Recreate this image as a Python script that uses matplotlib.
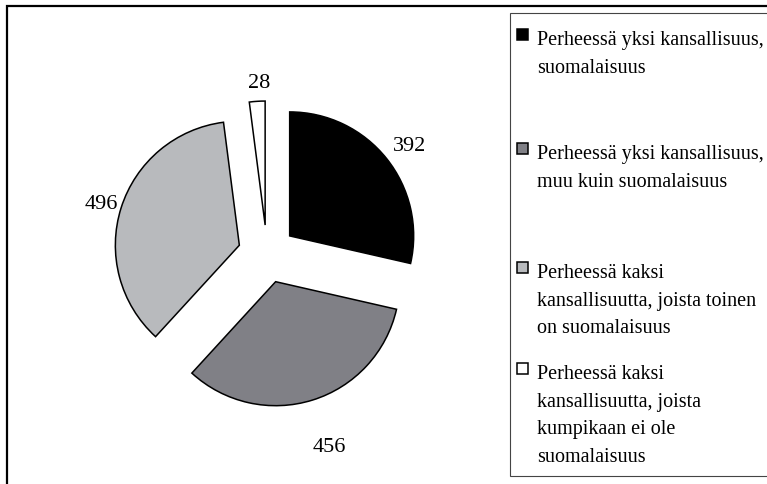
import numpy as np
import matplotlib.pyplot as plt
from matplotlib.patches import Rectangle

# data
values = [392, 456, 496, 28]
colors = ["#000000", "#808086", "#b8babd", "#ffffff"]
legend_labels = [
    "Perheessä yksi kansallisuus,\nsuomalaisuus",
    "Perheessä yksi kansallisuus,\nmuu kuin suomalaisuus",
    "Perheessä kaksi\nkansallisuutta, joista toinen\non suomalaisuus",
    "Perheessä kaksi\nkansallisuutta, joista\nkumpikaan ei ole\nsuomalaisuus",
]
label_dist = [1.21, 1.37, 1.19, 1.18]

plt.rcParams["font.family"] = ["Liberation Serif", "DejaVu Serif"]

W, H = 767, 484
fig = plt.figure(figsize=(W / 100, H / 100), dpi=100)
ax = fig.add_axes([0, 0, 1, 1])

cx, cy, r = 267, H - 254, 124
expl = 29  # pie explode is in data units here

wedges, _ = ax.pie(values, colors=colors, startangle=90, counterclock=False,
                   explode=[expl] * len(values), center=(cx, cy), radius=r,
                   wedgeprops=dict(edgecolor="black", linewidth=1.1),
                   frame=True)
ax.set_xlim(0, W)
ax.set_ylim(0, H)
ax.set_aspect("equal")
ax.axis("off")

# value labels
for w, v, d in zip(wedges, values, label_dist):
    ang = np.deg2rad((w.theta1 + w.theta2) / 2)
    x = cx + (expl + d * r) * np.cos(ang)
    y = cy + (expl + d * r) * np.sin(ang)
    ax.text(x + 3, y - 4, str(v), ha="center", va="center", fontsize=16)

# outer frame (runs off the right and bottom)
ax.plot([6.5, 6.5, W + 5], [-5, H - 5.5, H - 5.5], color="black", lw=1.6,
        solid_joinstyle="miter")

# legend box drawn by hand
ax.add_patch(Rectangle((510, H - 476), 300, 463, facecolor="white",
                       edgecolor="#444444", lw=0.8))
legend_top = [39, 153, 272, 373]
for lab, col, ty in zip(legend_labels, colors, legend_top):
    ax.add_patch(Rectangle((516.5, H - ty - 1), 11, 11, facecolor=col,
                           edgecolor="black", lw=1.1))
    ax.text(537, H - ty + 8, lab, ha="left", va="top", fontsize=14.5,
            linespacing=1.62)

fig.savefig("out.png", dpi=100)
